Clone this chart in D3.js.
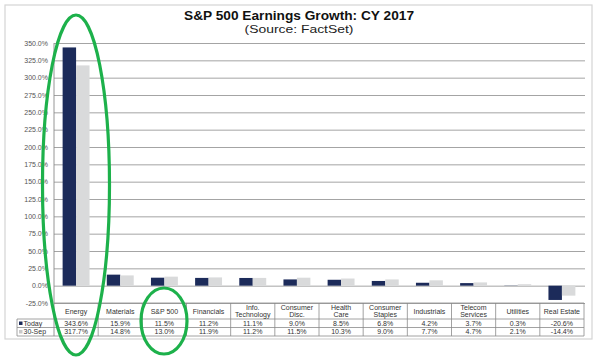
<!DOCTYPE html>
<html>
<head>
<meta charset="utf-8">
<script src="https://cdn.jsdelivr.net/npm/d3@7"></script>
<style>
  body { margin: 0; background: #fff; }
  svg { font-family: Arial, "Liberation Sans", sans-serif; }
</style>
</head>
<body>
<svg id="chart" width="600" height="362"></svg>
<script>
// categories and values
const categories = ['Energy', 'Materials', 'S&P 500', 'Financials', 'Info.\nTechnology',
  'Consumer\nDisc.', 'Health\nCare', 'Consumer\nStaples', 'Industrials',
  'Telecom\nServices', 'Utilities', 'Real Estate']
const seriesNames = ['Today', '30-Sep']
const today = [343.6, 15.9, 11.5, 11.2, 11.1, 9.0, 8.5, 6.8, 4.2, 3.7, 0.3, -20.6]
const sep30 = [317.7, 14.8, 13.0, 11.9, 11.2, 11.5, 10.3, 9.0, 7.7, 4.7, 2.1, -14.4]
const yTicks = d3.range(-25, 351, 25)

const colors = {'Today': '#1c2b5a', '30-Sep': '#d9dadb'}
const green = '#1db14b'

const svg = d3.select('#chart')
const plot = {left: 54, right: 584, top: 43, bottom: 303}
const rows = [303, 319, 327.5, 336]

// outer frame
svg.append('rect')
  .attr('x', 5).attr('y', 5).attr('width', 587).attr('height', 334)
  .attr('fill', '#fff').attr('stroke', '#d4d4d4').attr('stroke-width', 1.2)

// title (the picture is a bit stretched sideways, so fit the widths)
svg.append('text')
  .attr('x', 299).attr('y', 20)
  .attr('text-anchor', 'middle')
  .attr('textLength', 230).attr('lengthAdjust', 'spacingAndGlyphs')
  .style('font-size', '13px').style('font-weight', 'bold').attr('fill', '#111')
  .text('S&P 500 Earnings Growth: CY 2017')
svg.append('text')
  .attr('x', 299).attr('y', 33)
  .attr('text-anchor', 'middle')
  .attr('textLength', 109).attr('lengthAdjust', 'spacingAndGlyphs')
  .style('font-size', '11.5px').attr('fill', '#222')
  .text('(Source: FactSet)')

const x = d3.scaleBand().domain(categories).range([plot.left, plot.right])
const x1 = d3.scaleBand().domain(seriesNames).range([0, x.bandwidth()])
  .paddingInner(0).paddingOuter(0.64)
const y = d3.scaleLinear().domain([-25, 350]).range([plot.bottom, plot.top])

// grid + y labels
const yAxis = svg.append('g')
  .attr('transform', 'translate(' + plot.left + ',0)')
  .call(d3.axisLeft(y)
    .tickValues(yTicks)
    .tickFormat(d => d.toFixed(1) + '%')
    .tickSize(-(plot.right - plot.left + 1))
    .tickPadding(6))
yAxis.select('.domain').remove()
yAxis.selectAll('.tick line').attr('stroke', '#9a9a9a').attr('stroke-width', 0.9)
yAxis.selectAll('.tick text')
  .attr('fill', '#555').style('font-size', '7px')

// bars
const data = categories.map((c, i) => ({cat: c, values: [
  {key: 'Today', v: today[i]}, {key: '30-Sep', v: sep30[i]}]}))

const groups = svg.append('g').selectAll('g')
  .data(data)
  .enter()
  .append('g')
  .attr('transform', d => 'translate(' + x(d.cat) + ',0)')

groups.selectAll('rect')
  .data(d => d.values)
  .enter()
  .append('rect')
  .attr('x', d => x1(d.key))
  .attr('width', x1.bandwidth())
  .attr('y', d => y(Math.max(0, d.v)))
  .attr('height', d => Math.abs(y(d.v) - y(0)))
  .attr('fill', d => colors[d.key])

// y axis line running down into the table
svg.append('line')
  .attr('x1', plot.left).attr('x2', plot.left)
  .attr('y1', plot.top).attr('y2', rows[3])
  .attr('stroke', '#8a8a8a').attr('stroke-width', 0.9)

// table lines
const table = svg.append('g').attr('stroke', '#8a8a8a').attr('stroke-width', 0.8)
rows.forEach((r, i) => {
  table.append('line')
    .attr('x1', i === 0 ? plot.left : 17).attr('x2', plot.right)
    .attr('y1', r).attr('y2', r)
})
categories.forEach(c => {
  table.append('line')
    .attr('x1', x(c) + x.bandwidth()).attr('x2', x(c) + x.bandwidth())
    .attr('y1', rows[0]).attr('y2', rows[3])
})
table.append('line')
  .attr('x1', 17).attr('x2', 17).attr('y1', rows[1]).attr('y2', rows[3])

// category header text
const header = svg.append('g')
header.selectAll('text')
  .data(categories)
  .enter()
  .append('text')
  .attr('text-anchor', 'middle')
  .attr('fill', '#333')
  .style('font-size', '7px')
  .each(function (d) {
    const parts = d.split('\n')
    const t = d3.select(this)
    const cx = x(d) + x.bandwidth() / 2
    const y0 = parts.length === 1 ? 313.5 : 310
    parts.forEach((p, j) => {
      t.append('tspan').attr('x', cx).attr('y', y0 + j * 7).text(p)
    })
  })

// value rows
const fmt = v => v.toFixed(1) + '%'
;[today, sep30].forEach((vals, r) => {
  svg.append('g').selectAll('text')
    .data(vals)
    .enter()
    .append('text')
    .attr('x', (d, i) => x(categories[i]) + x.bandwidth() / 2)
    .attr('y', rows[r + 1] + 6.9)
    .attr('text-anchor', 'middle')
    .attr('fill', '#333')
    .style('font-size', '7px')
    .text(fmt)
})

// legend keys in the table
seriesNames.forEach((s, r) => {
  svg.append('rect')
    .attr('x', 19).attr('y', rows[r + 1] + 2.5)
    .attr('width', 3.5).attr('height', 3.5)
    .attr('fill', r === 0 ? colors[s] : '#c9c9c9')
  svg.append('text')
    .attr('x', 23.5).attr('y', rows[r + 1] + 6.9)
    .attr('fill', '#333')
    .style('font-size', '7px')
    .text(s)
})

// green highlight ellipses
svg.append('ellipse')
  .attr('cx', 76).attr('cy', 185).attr('rx', 33.5).attr('ry', 170)
  .attr('fill', 'none').attr('stroke', green).attr('stroke-width', 3.2)
svg.append('ellipse')
  .attr('cx', 164).attr('cy', 321).attr('rx', 23).attr('ry', 33)
  .attr('fill', 'none').attr('stroke', green).attr('stroke-width', 3.2)
</script>
</body>
</html>
